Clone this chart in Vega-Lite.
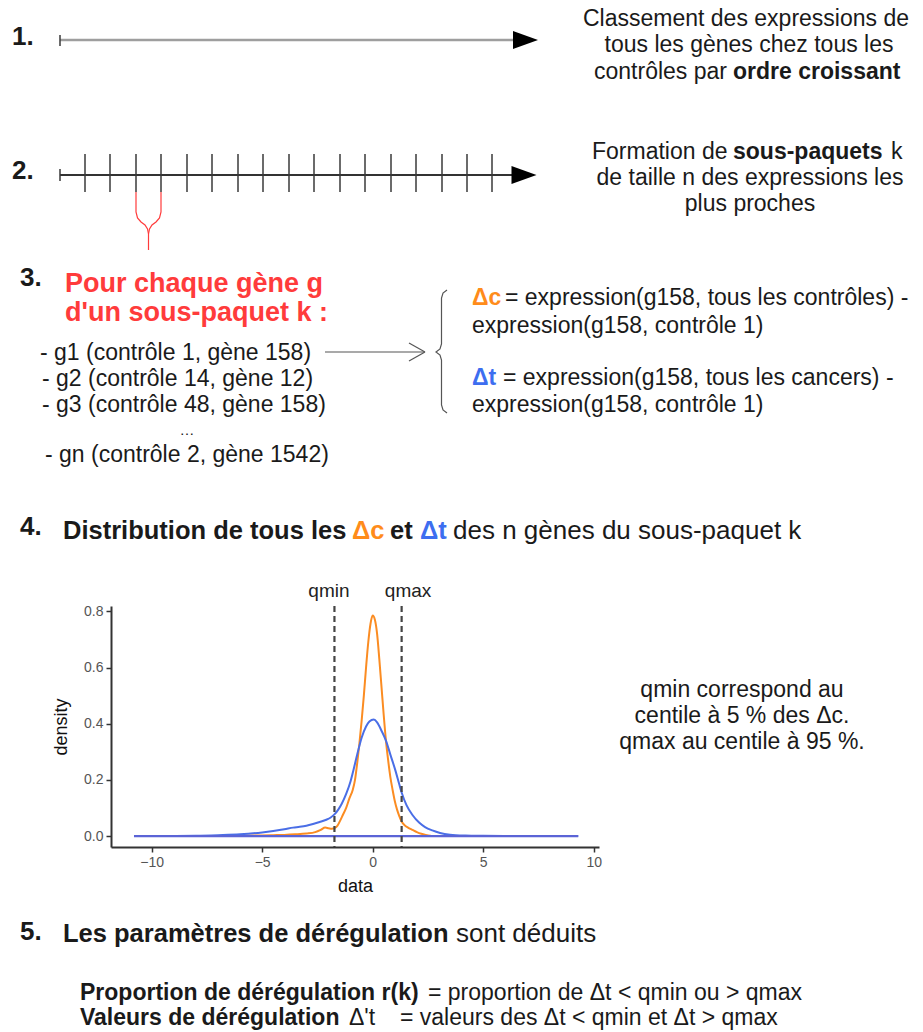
{
  "$schema": "https://vega.github.io/schema/vega-lite/v6.json",
  "width": 488,
  "height": 241,
  "autosize": {"type": "none"},
  "padding": {"left": 111, "top": 606, "right": 324, "bottom": 185},
  "background": "white",
  "config": {
    "font": "Liberation Sans",
    "view": {"stroke": null},
    "text": {"font": "Liberation Sans"},
    "axis": {"labelFont": "Liberation Sans", "titleFont": "Liberation Sans", "grid": false}
  },
  "datasets": {
    "density": [
      {"series": "Δc", "x": -6.5, "density": 0},
      {"series": "Δc", "x": -6, "density": 0.001},
      {"series": "Δc", "x": -5, "density": 0.002},
      {"series": "Δc", "x": -4.5, "density": 0.003},
      {"series": "Δc", "x": -4, "density": 0.004},
      {"series": "Δc", "x": -3.5, "density": 0.006},
      {"series": "Δc", "x": -3, "density": 0.009},
      {"series": "Δc", "x": -2.6, "density": 0.014},
      {"series": "Δc", "x": -2.35, "density": 0.022},
      {"series": "Δc", "x": -2.15, "density": 0.03},
      {"series": "Δc", "x": -2.0, "density": 0.028},
      {"series": "Δc", "x": -1.85, "density": 0.026},
      {"series": "Δc", "x": -1.73, "density": 0.028},
      {"series": "Δc", "x": -1.6, "density": 0.036},
      {"series": "Δc", "x": -1.47, "density": 0.055},
      {"series": "Δc", "x": -1.35, "density": 0.075},
      {"series": "Δc", "x": -1.2, "density": 0.1},
      {"series": "Δc", "x": -1.05, "density": 0.135},
      {"series": "Δc", "x": -0.9, "density": 0.165},
      {"series": "Δc", "x": -0.8, "density": 0.2},
      {"series": "Δc", "x": -0.7, "density": 0.26},
      {"series": "Δc", "x": -0.6, "density": 0.33},
      {"series": "Δc", "x": -0.5, "density": 0.41},
      {"series": "Δc", "x": -0.4, "density": 0.5},
      {"series": "Δc", "x": -0.3, "density": 0.6},
      {"series": "Δc", "x": -0.2, "density": 0.69},
      {"series": "Δc", "x": -0.1, "density": 0.755},
      {"series": "Δc", "x": 0, "density": 0.785},
      {"series": "Δc", "x": 0.1, "density": 0.77},
      {"series": "Δc", "x": 0.2, "density": 0.72},
      {"series": "Δc", "x": 0.3, "density": 0.63},
      {"series": "Δc", "x": 0.4, "density": 0.53},
      {"series": "Δc", "x": 0.5, "density": 0.43},
      {"series": "Δc", "x": 0.6, "density": 0.34},
      {"series": "Δc", "x": 0.7, "density": 0.27},
      {"series": "Δc", "x": 0.8, "density": 0.21},
      {"series": "Δc", "x": 0.9, "density": 0.165},
      {"series": "Δc", "x": 1.0, "density": 0.125},
      {"series": "Δc", "x": 1.1, "density": 0.095},
      {"series": "Δc", "x": 1.2, "density": 0.072},
      {"series": "Δc", "x": 1.31, "density": 0.052},
      {"series": "Δc", "x": 1.45, "density": 0.038},
      {"series": "Δc", "x": 1.6, "density": 0.03},
      {"series": "Δc", "x": 1.8, "density": 0.022},
      {"series": "Δc", "x": 2.0, "density": 0.014},
      {"series": "Δc", "x": 2.2, "density": 0.008},
      {"series": "Δc", "x": 2.4, "density": 0.004},
      {"series": "Δc", "x": 2.6, "density": 0.001},
      {"series": "Δc", "x": 2.75, "density": 0},
      {"series": "Δt", "x": -10.8, "density": 0},
      {"series": "Δt", "x": -9, "density": 0.0005},
      {"series": "Δt", "x": -8, "density": 0.001},
      {"series": "Δt", "x": -7, "density": 0.003},
      {"series": "Δt", "x": -6, "density": 0.006},
      {"series": "Δt", "x": -5, "density": 0.013},
      {"series": "Δt", "x": -4.5, "density": 0.018},
      {"series": "Δt", "x": -4, "density": 0.024},
      {"series": "Δt", "x": -3.6, "density": 0.03},
      {"series": "Δt", "x": -3.3, "density": 0.033},
      {"series": "Δt", "x": -3.0, "density": 0.037},
      {"series": "Δt", "x": -2.7, "density": 0.043},
      {"series": "Δt", "x": -2.4, "density": 0.05},
      {"series": "Δt", "x": -2.1, "density": 0.058},
      {"series": "Δt", "x": -1.9, "density": 0.066},
      {"series": "Δt", "x": -1.73, "density": 0.077},
      {"series": "Δt", "x": -1.55, "density": 0.095},
      {"series": "Δt", "x": -1.4, "density": 0.115},
      {"series": "Δt", "x": -1.2, "density": 0.15},
      {"series": "Δt", "x": -1.0, "density": 0.195},
      {"series": "Δt", "x": -0.9, "density": 0.225},
      {"series": "Δt", "x": -0.7, "density": 0.29},
      {"series": "Δt", "x": -0.5, "density": 0.35},
      {"series": "Δt", "x": -0.3, "density": 0.39},
      {"series": "Δt", "x": -0.15, "density": 0.408},
      {"series": "Δt", "x": 0.05, "density": 0.415},
      {"series": "Δt", "x": 0.2, "density": 0.405},
      {"series": "Δt", "x": 0.4, "density": 0.375},
      {"series": "Δt", "x": 0.6, "density": 0.34},
      {"series": "Δt", "x": 0.8, "density": 0.29},
      {"series": "Δt", "x": 1.03, "density": 0.233},
      {"series": "Δt", "x": 1.2, "density": 0.185},
      {"series": "Δt", "x": 1.31, "density": 0.155},
      {"series": "Δt", "x": 1.53, "density": 0.11},
      {"series": "Δt", "x": 1.8, "density": 0.075},
      {"series": "Δt", "x": 2.1, "density": 0.048},
      {"series": "Δt", "x": 2.37, "density": 0.032},
      {"series": "Δt", "x": 2.7, "density": 0.02},
      {"series": "Δt", "x": 3.05, "density": 0.011},
      {"series": "Δt", "x": 3.5, "density": 0.005},
      {"series": "Δt", "x": 4.2, "density": 0.002},
      {"series": "Δt", "x": 5, "density": 0.001},
      {"series": "Δt", "x": 6, "density": 0.0005},
      {"series": "Δt", "x": 7, "density": 0.0002},
      {"series": "Δt", "x": 8, "density": 0.0001},
      {"series": "Δt", "x": 9.3, "density": 0}
    ],
    "quantiles": [
      {"name": "qmin", "value": -1.73, "label_x": -1.98, "label_y": 0.871},
      {"name": "qmax", "value": 1.31, "label_x": 1.6, "label_y": 0.871}
    ],
    "baseline": [{"from": -10.8, "to": 9.3, "level": 0}],
    "segments": [
      {"kind": "gray", "x": 60, "y": 40, "x2": 514, "y2": 40},
      {"kind": "tick", "x": 60, "y": 35, "x2": 60, "y2": 46},
      {"kind": "dark", "x": 60, "y": 175, "x2": 512, "y2": 175},
      {"kind": "tick", "x": 60, "y": 169, "x2": 60, "y2": 181},
      {"kind": "tick", "x": 85, "y": 154, "x2": 85, "y2": 192},
      {"kind": "tick", "x": 110, "y": 154, "x2": 110, "y2": 192},
      {"kind": "tick", "x": 136, "y": 154, "x2": 136, "y2": 192},
      {"kind": "tick", "x": 161, "y": 154, "x2": 161, "y2": 192},
      {"kind": "tick", "x": 187, "y": 154, "x2": 187, "y2": 192},
      {"kind": "tick", "x": 212, "y": 154, "x2": 212, "y2": 192},
      {"kind": "tick", "x": 238, "y": 154, "x2": 238, "y2": 192},
      {"kind": "tick", "x": 263, "y": 154, "x2": 263, "y2": 192},
      {"kind": "tick", "x": 289, "y": 154, "x2": 289, "y2": 192},
      {"kind": "tick", "x": 314, "y": 154, "x2": 314, "y2": 192},
      {"kind": "tick", "x": 340, "y": 154, "x2": 340, "y2": 192},
      {"kind": "tick", "x": 365, "y": 154, "x2": 365, "y2": 192},
      {"kind": "tick", "x": 391, "y": 154, "x2": 391, "y2": 192},
      {"kind": "tick", "x": 416, "y": 154, "x2": 416, "y2": 192},
      {"kind": "tick", "x": 442, "y": 154, "x2": 442, "y2": 192},
      {"kind": "tick", "x": 467, "y": 154, "x2": 467, "y2": 192},
      {"kind": "tick", "x": 492, "y": 154, "x2": 492, "y2": 192},
      {"kind": "pointer", "x": 325, "y": 352, "x2": 424, "y2": 352},
      {"kind": "pointer", "x": 409, "y": 343, "x2": 425, "y2": 352},
      {"kind": "pointer", "x": 409, "y": 361, "x2": 425, "y2": 352}
    ],
    "paths": [
      {"kind": "red", "path": "left", "i": 0, "x": 136, "y": 192},
      {"kind": "red", "path": "left", "i": 1, "x": 136, "y": 212},
      {"kind": "red", "path": "left", "i": 2, "x": 137.5, "y": 218},
      {"kind": "red", "path": "left", "i": 3, "x": 141, "y": 222},
      {"kind": "red", "path": "left", "i": 4, "x": 145, "y": 225},
      {"kind": "red", "path": "left", "i": 5, "x": 147.5, "y": 229},
      {"kind": "red", "path": "left", "i": 6, "x": 148.5, "y": 234},
      {"kind": "red", "path": "left", "i": 7, "x": 148.5, "y": 250},
      {"kind": "red", "path": "right", "i": 0, "x": 161, "y": 192},
      {"kind": "red", "path": "right", "i": 1, "x": 161, "y": 212},
      {"kind": "red", "path": "right", "i": 2, "x": 159.5, "y": 218},
      {"kind": "red", "path": "right", "i": 3, "x": 156, "y": 222},
      {"kind": "red", "path": "right", "i": 4, "x": 152, "y": 225},
      {"kind": "red", "path": "right", "i": 5, "x": 149.5, "y": 229},
      {"kind": "red", "path": "right", "i": 6, "x": 148.5, "y": 234},
      {"kind": "brace", "path": "brace", "i": 0, "x": 447, "y": 290},
      {"kind": "brace", "path": "brace", "i": 1, "x": 443, "y": 293},
      {"kind": "brace", "path": "brace", "i": 2, "x": 441.5, "y": 298},
      {"kind": "brace", "path": "brace", "i": 3, "x": 441.5, "y": 344},
      {"kind": "brace", "path": "brace", "i": 4, "x": 440, "y": 349},
      {"kind": "brace", "path": "brace", "i": 5, "x": 436, "y": 352},
      {"kind": "brace", "path": "brace", "i": 6, "x": 440, "y": 355},
      {"kind": "brace", "path": "brace", "i": 7, "x": 441.5, "y": 360},
      {"kind": "brace", "path": "brace", "i": 8, "x": 441.5, "y": 405},
      {"kind": "brace", "path": "brace", "i": 9, "x": 443, "y": 410},
      {"kind": "brace", "path": "brace", "i": 10, "x": 447, "y": 413}
    ],
    "heads": [
      {"x": 525.5, "y": 40},
      {"x": 524, "y": 175}
    ],
    "texts": [
      {"style": "step", "tone": "ink", "x": 12, "y": 37, "text": "1."},
      {"style": "centered", "tone": "ink", "x": 746, "y": 19, "text": "Classement des expressions de"},
      {"style": "centered", "tone": "ink", "x": 749, "y": 45, "text": "tous les gènes chez tous les"},
      {"style": "plain", "tone": "ink", "x": 594, "y": 72, "text": "contrôles par"},
      {"style": "strong", "tone": "ink", "x": 733, "y": 72, "text": "ordre croissant"},
      {"style": "step", "tone": "ink", "x": 12, "y": 171, "text": "2."},
      {"style": "plain", "tone": "ink", "x": 592, "y": 152, "text": "Formation de"},
      {"style": "strong", "tone": "ink", "x": 733, "y": 152, "text": "sous-paquets"},
      {"style": "plain", "tone": "ink", "x": 891, "y": 152, "text": "k"},
      {"style": "centered", "tone": "ink", "x": 750, "y": 178, "text": "de taille n des expressions les"},
      {"style": "centered", "tone": "ink", "x": 750, "y": 204, "text": "plus proches"},
      {"style": "step", "tone": "ink", "x": 20, "y": 278, "text": "3."},
      {"style": "title", "tone": "alert", "x": 65, "y": 284, "text": "Pour chaque gène g"},
      {"style": "title", "tone": "alert", "x": 65, "y": 313, "text": "d'un sous-paquet k :"},
      {"style": "plain", "tone": "ink", "x": 40, "y": 353, "text": "- g1 (contrôle 1, gène 158)"},
      {"style": "plain", "tone": "ink", "x": 42, "y": 379, "text": "- g2 (contrôle 14, gène 12)"},
      {"style": "plain", "tone": "ink", "x": 42, "y": 405, "text": "- g3 (contrôle 48, gène 158)"},
      {"style": "ellipsis", "tone": "ink", "x": 187, "y": 430, "text": "…"},
      {"style": "plain", "tone": "ink", "x": 45, "y": 455, "text": "- gn (contrôle 2, gène 1542)"},
      {"style": "strong", "tone": "control", "x": 472, "y": 298, "text": "Δc"},
      {"style": "plain", "tone": "ink", "x": 505, "y": 298, "text": "= expression(g158, tous les contrôles) -"},
      {"style": "plain", "tone": "ink", "x": 472, "y": 326, "text": "expression(g158, contrôle 1)"},
      {"style": "strong", "tone": "cancer", "x": 472, "y": 378, "text": "Δt"},
      {"style": "plain", "tone": "ink", "x": 503, "y": 378, "text": "= expression(g158, tous les cancers) -"},
      {"style": "plain", "tone": "ink", "x": 472, "y": 405, "text": "expression(g158, contrôle 1)"},
      {"style": "step", "tone": "ink", "x": 20, "y": 527, "text": "4."},
      {"style": "heading-strong", "tone": "ink", "x": 63, "y": 531, "text": "Distribution de tous les"},
      {"style": "heading-strong", "tone": "control", "x": 352, "y": 531, "text": "Δc"},
      {"style": "heading-strong", "tone": "ink", "x": 390, "y": 531, "text": "et"},
      {"style": "heading-strong", "tone": "cancer", "x": 420, "y": 531, "text": "Δt"},
      {"style": "heading", "tone": "ink", "x": 453, "y": 531, "text": "des n gènes du sous-paquet k"},
      {"style": "centered", "tone": "ink", "x": 742, "y": 690, "text": "qmin correspond au"},
      {"style": "centered", "tone": "ink", "x": 742, "y": 716, "text": "centile à 5 % des Δc."},
      {"style": "centered", "tone": "ink", "x": 742, "y": 742, "text": "qmax au centile à 95 %."},
      {"style": "step", "tone": "ink", "x": 20, "y": 932, "text": "5."},
      {"style": "heading-strong", "tone": "ink", "x": 63, "y": 934, "text": "Les paramètres de dérégulation"},
      {"style": "heading", "tone": "ink", "x": 456, "y": 934, "text": "sont déduits"},
      {"style": "strong", "tone": "ink", "x": 80, "y": 993, "text": "Proportion de dérégulation r(k)"},
      {"style": "plain", "tone": "ink", "x": 428, "y": 993, "text": "= proportion de Δt < qmin ou > qmax"},
      {"style": "strong", "tone": "ink", "x": 80, "y": 1018, "text": "Valeurs de dérégulation"},
      {"style": "plain", "tone": "ink", "x": 349, "y": 1018, "text": "Δ't"},
      {"style": "plain", "tone": "ink", "x": 400, "y": 1018, "text": "= valeurs des Δt < qmin et Δt > qmax"}
    ]
  },
  "layer": [
    {
      "layer": [
        {
          "data": {"name": "density"},
          "mark": {"type": "line", "strokeWidth": 2, "interpolate": "monotone"},
          "encoding": {
            "x": {
              "field": "x", "type": "quantitative", "title": "data",
              "scale": {"domain": [-11.84, 10.24], "nice": false, "zero": false},
              "axis": {
                "values": [-10, -5, 0, 5, 10], "domainColor": "#333333", "domainWidth": 2,
                "tickColor": "#333333", "tickWidth": 1.5, "tickSize": 5,
                "labelColor": "#555555", "labelFontSize": 14, "labelPadding": 3,
                "titleFontSize": 18, "titleFontWeight": "normal", "titleColor": "#111111", "titlePadding": 8
              }
            },
            "y": {
              "field": "density", "type": "quantitative", "title": "density",
              "scale": {"domain": [-0.039, 0.819], "nice": false, "zero": false},
              "axis": {
                "values": [0, 0.2, 0.4, 0.6, 0.8], "format": ".1f", "domainColor": "#333333", "domainWidth": 2,
                "tickColor": "#333333", "tickWidth": 1.5, "tickSize": 5,
                "labelColor": "#555555", "labelFontSize": 14, "labelPadding": 3,
                "titleFontSize": 18, "titleFontWeight": "normal", "titleColor": "#111111", "titlePadding": 13
              }
            },
            "color": {
              "field": "series", "type": "nominal",
              "scale": {"domain": ["Δc", "Δt"], "range": ["#fb8c22", "#4a6ee6"]},
              "legend": null
            }
          }
        },
        {
          "data": {"name": "baseline"},
          "mark": {"type": "rule", "color": "#5b64d6", "strokeWidth": 2.2},
          "encoding": {
            "x": {"field": "from", "type": "quantitative"},
            "x2": {"field": "to"},
            "y": {"field": "level", "type": "quantitative"}
          }
        },
        {
          "data": {"name": "quantiles"},
          "mark": {"type": "rule", "color": "#444444", "strokeWidth": 2.2, "strokeDash": [6, 4]},
          "encoding": {
            "x": {"field": "value", "type": "quantitative"}
          }
        },
        {
          "data": {"name": "quantiles"},
          "mark": {"type": "text", "fontSize": 19, "color": "#222222", "align": "center", "baseline": "middle"},
          "encoding": {
            "x": {"field": "label_x", "type": "quantitative"},
            "y": {"field": "label_y", "type": "quantitative"},
            "text": {"field": "name"}
          }
        }
      ]
    },
    {
      "layer": [
        {
          "data": {"name": "segments"},
          "transform": [{"filter": "datum.kind === 'gray'"}],
          "mark": {"type": "rule", "color": "#9e9e9e", "strokeWidth": 2.5},
          "encoding": {
            "x": {"field": "x", "type": "quantitative", "scale": {"domain": [0, 923], "range": [-111, 812], "nice": false, "zero": false}, "axis": null},
            "y": {"field": "y", "type": "quantitative", "scale": {"domain": [0, 1032], "range": [-606, 426], "nice": false, "zero": false}, "axis": null},
            "x2": {"field": "x2"},
            "y2": {"field": "y2"}
          }
        },
        {
          "data": {"name": "segments"},
          "transform": [{"filter": "datum.kind === 'dark'"}],
          "mark": {"type": "rule", "color": "#333333", "strokeWidth": 2},
          "encoding": {
            "x": {"field": "x", "type": "quantitative", "scale": {"domain": [0, 923], "range": [-111, 812], "nice": false, "zero": false}, "axis": null},
            "y": {"field": "y", "type": "quantitative", "scale": {"domain": [0, 1032], "range": [-606, 426], "nice": false, "zero": false}, "axis": null},
            "x2": {"field": "x2"},
            "y2": {"field": "y2"}
          }
        },
        {
          "data": {"name": "segments"},
          "transform": [{"filter": "datum.kind === 'tick'"}],
          "mark": {"type": "rule", "color": "#3a3a3a", "strokeWidth": 1.5},
          "encoding": {
            "x": {"field": "x", "type": "quantitative", "scale": {"domain": [0, 923], "range": [-111, 812], "nice": false, "zero": false}, "axis": null},
            "y": {"field": "y", "type": "quantitative", "scale": {"domain": [0, 1032], "range": [-606, 426], "nice": false, "zero": false}, "axis": null},
            "x2": {"field": "x2"},
            "y2": {"field": "y2"}
          }
        },
        {
          "data": {"name": "segments"},
          "transform": [{"filter": "datum.kind === 'pointer'"}],
          "mark": {"type": "rule", "color": "#555555", "strokeWidth": 1.2},
          "encoding": {
            "x": {"field": "x", "type": "quantitative", "scale": {"domain": [0, 923], "range": [-111, 812], "nice": false, "zero": false}, "axis": null},
            "y": {"field": "y", "type": "quantitative", "scale": {"domain": [0, 1032], "range": [-606, 426], "nice": false, "zero": false}, "axis": null},
            "x2": {"field": "x2"},
            "y2": {"field": "y2"}
          }
        },
        {
          "data": {"name": "paths"},
          "transform": [{"filter": "datum.kind === 'red'"}],
          "mark": {"type": "line", "color": "#ff3b3b", "strokeWidth": 1.2},
          "encoding": {
            "x": {"field": "x", "type": "quantitative", "scale": {"domain": [0, 923], "range": [-111, 812], "nice": false, "zero": false}, "axis": null},
            "y": {"field": "y", "type": "quantitative", "scale": {"domain": [0, 1032], "range": [-606, 426], "nice": false, "zero": false}, "axis": null},
            "order": {"field": "i", "type": "quantitative"},
            "detail": {"field": "path", "type": "nominal"}
          }
        },
        {
          "data": {"name": "paths"},
          "transform": [{"filter": "datum.kind === 'brace'"}],
          "mark": {"type": "line", "color": "#555555", "strokeWidth": 1.2},
          "encoding": {
            "x": {"field": "x", "type": "quantitative", "scale": {"domain": [0, 923], "range": [-111, 812], "nice": false, "zero": false}, "axis": null},
            "y": {"field": "y", "type": "quantitative", "scale": {"domain": [0, 1032], "range": [-606, 426], "nice": false, "zero": false}, "axis": null},
            "order": {"field": "i", "type": "quantitative"},
            "detail": {"field": "path", "type": "nominal"}
          }
        },
        {
          "data": {"name": "heads"},
          "mark": {"type": "point", "shape": "M -1 -0.72 L 1 0 L -1 0.72 Z", "size": 625, "filled": true, "color": "#000000", "opacity": 1, "strokeWidth": 0},
          "encoding": {
            "x": {"field": "x", "type": "quantitative", "scale": {"domain": [0, 923], "range": [-111, 812], "nice": false, "zero": false}, "axis": null},
            "y": {"field": "y", "type": "quantitative", "scale": {"domain": [0, 1032], "range": [-606, 426], "nice": false, "zero": false}, "axis": null}
          }
        },
        {
          "data": {"name": "texts"},
          "transform": [{"filter": "datum.style === 'step'"}],
          "mark": {"type": "text", "fontSize": 26, "fontWeight": "bold", "align": "left", "baseline": "middle"},
          "encoding": {
            "x": {"field": "x", "type": "quantitative", "scale": {"domain": [0, 923], "range": [-111, 812], "nice": false, "zero": false}, "axis": null},
            "y": {"field": "y", "type": "quantitative", "scale": {"domain": [0, 1032], "range": [-606, 426], "nice": false, "zero": false}, "axis": null},
            "text": {"field": "text"},
            "color": {"field": "tone", "type": "nominal", "scale": {"domain": ["ink", "control", "cancer", "alert"], "range": ["#1a1a1a", "#ff8c1a", "#3d6ef0", "#ff3b3b"]}, "legend": null}
          }
        },
        {
          "data": {"name": "texts"},
          "transform": [{"filter": "datum.style === 'heading-strong'"}],
          "mark": {"type": "text", "fontSize": 25.5, "fontWeight": "bold", "align": "left", "baseline": "middle"},
          "encoding": {
            "x": {"field": "x", "type": "quantitative", "scale": {"domain": [0, 923], "range": [-111, 812], "nice": false, "zero": false}, "axis": null},
            "y": {"field": "y", "type": "quantitative", "scale": {"domain": [0, 1032], "range": [-606, 426], "nice": false, "zero": false}, "axis": null},
            "text": {"field": "text"},
            "color": {"field": "tone", "type": "nominal", "scale": {"domain": ["ink", "control", "cancer", "alert"], "range": ["#1a1a1a", "#ff8c1a", "#3d6ef0", "#ff3b3b"]}, "legend": null}
          }
        },
        {
          "data": {"name": "texts"},
          "transform": [{"filter": "datum.style === 'heading'"}],
          "mark": {"type": "text", "fontSize": 26, "align": "left", "baseline": "middle"},
          "encoding": {
            "x": {"field": "x", "type": "quantitative", "scale": {"domain": [0, 923], "range": [-111, 812], "nice": false, "zero": false}, "axis": null},
            "y": {"field": "y", "type": "quantitative", "scale": {"domain": [0, 1032], "range": [-606, 426], "nice": false, "zero": false}, "axis": null},
            "text": {"field": "text"},
            "color": {"field": "tone", "type": "nominal", "scale": {"domain": ["ink", "control", "cancer", "alert"], "range": ["#1a1a1a", "#ff8c1a", "#3d6ef0", "#ff3b3b"]}, "legend": null}
          }
        },
        {
          "data": {"name": "texts"},
          "transform": [{"filter": "datum.style === 'title'"}],
          "mark": {"type": "text", "fontSize": 27, "fontWeight": "bold", "align": "left", "baseline": "middle"},
          "encoding": {
            "x": {"field": "x", "type": "quantitative", "scale": {"domain": [0, 923], "range": [-111, 812], "nice": false, "zero": false}, "axis": null},
            "y": {"field": "y", "type": "quantitative", "scale": {"domain": [0, 1032], "range": [-606, 426], "nice": false, "zero": false}, "axis": null},
            "text": {"field": "text"},
            "color": {"field": "tone", "type": "nominal", "scale": {"domain": ["ink", "control", "cancer", "alert"], "range": ["#1a1a1a", "#ff8c1a", "#3d6ef0", "#ff3b3b"]}, "legend": null}
          }
        },
        {
          "data": {"name": "texts"},
          "transform": [{"filter": "datum.style === 'strong'"}],
          "mark": {"type": "text", "fontSize": 23, "fontWeight": "bold", "align": "left", "baseline": "middle"},
          "encoding": {
            "x": {"field": "x", "type": "quantitative", "scale": {"domain": [0, 923], "range": [-111, 812], "nice": false, "zero": false}, "axis": null},
            "y": {"field": "y", "type": "quantitative", "scale": {"domain": [0, 1032], "range": [-606, 426], "nice": false, "zero": false}, "axis": null},
            "text": {"field": "text"},
            "color": {"field": "tone", "type": "nominal", "scale": {"domain": ["ink", "control", "cancer", "alert"], "range": ["#1a1a1a", "#ff8c1a", "#3d6ef0", "#ff3b3b"]}, "legend": null}
          }
        },
        {
          "data": {"name": "texts"},
          "transform": [{"filter": "datum.style === 'plain'"}],
          "mark": {"type": "text", "fontSize": 23, "align": "left", "baseline": "middle"},
          "encoding": {
            "x": {"field": "x", "type": "quantitative", "scale": {"domain": [0, 923], "range": [-111, 812], "nice": false, "zero": false}, "axis": null},
            "y": {"field": "y", "type": "quantitative", "scale": {"domain": [0, 1032], "range": [-606, 426], "nice": false, "zero": false}, "axis": null},
            "text": {"field": "text"},
            "color": {"field": "tone", "type": "nominal", "scale": {"domain": ["ink", "control", "cancer", "alert"], "range": ["#1a1a1a", "#ff8c1a", "#3d6ef0", "#ff3b3b"]}, "legend": null}
          }
        },
        {
          "data": {"name": "texts"},
          "transform": [{"filter": "datum.style === 'centered'"}],
          "mark": {"type": "text", "fontSize": 23, "align": "center", "baseline": "middle"},
          "encoding": {
            "x": {"field": "x", "type": "quantitative", "scale": {"domain": [0, 923], "range": [-111, 812], "nice": false, "zero": false}, "axis": null},
            "y": {"field": "y", "type": "quantitative", "scale": {"domain": [0, 1032], "range": [-606, 426], "nice": false, "zero": false}, "axis": null},
            "text": {"field": "text"},
            "color": {"field": "tone", "type": "nominal", "scale": {"domain": ["ink", "control", "cancer", "alert"], "range": ["#1a1a1a", "#ff8c1a", "#3d6ef0", "#ff3b3b"]}, "legend": null}
          }
        },
        {
          "data": {"name": "texts"},
          "transform": [{"filter": "datum.style === 'ellipsis'"}],
          "mark": {"type": "text", "fontSize": 15, "align": "center", "baseline": "middle"},
          "encoding": {
            "x": {"field": "x", "type": "quantitative", "scale": {"domain": [0, 923], "range": [-111, 812], "nice": false, "zero": false}, "axis": null},
            "y": {"field": "y", "type": "quantitative", "scale": {"domain": [0, 1032], "range": [-606, 426], "nice": false, "zero": false}, "axis": null},
            "text": {"field": "text"},
            "color": {"field": "tone", "type": "nominal", "scale": {"domain": ["ink", "control", "cancer", "alert"], "range": ["#1a1a1a", "#ff8c1a", "#3d6ef0", "#ff3b3b"]}, "legend": null}
          }
        }
      ]
    }
  ],
  "resolve": {"scale": {"x": "independent", "y": "independent", "color": "independent"}}
}
